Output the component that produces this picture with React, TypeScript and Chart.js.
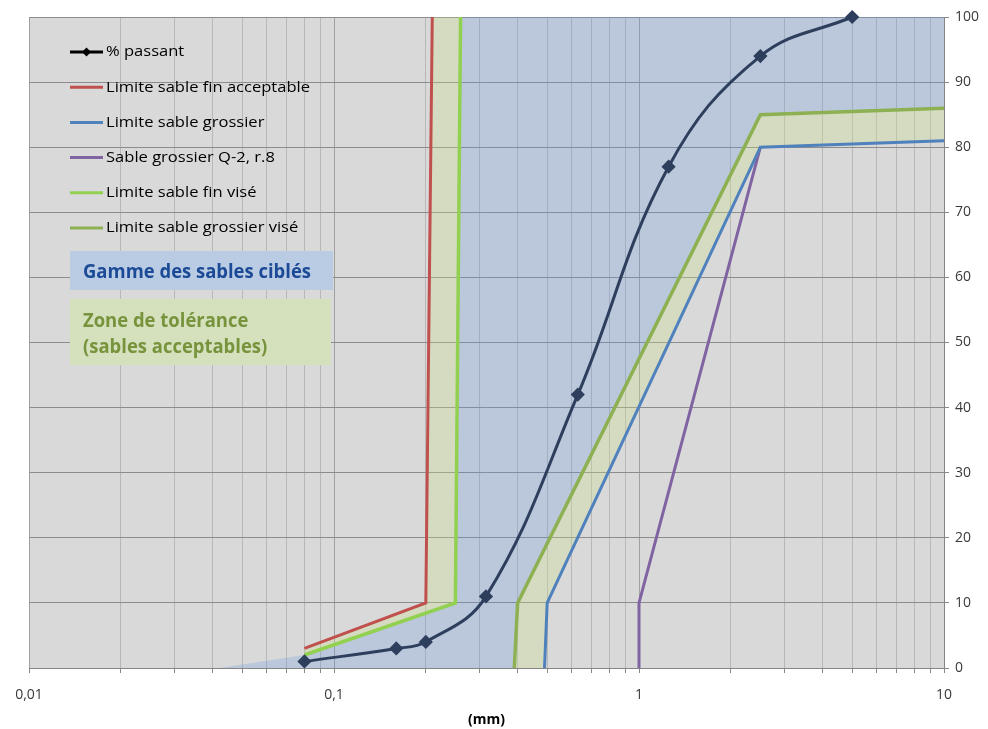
import React, { useEffect, useRef } from "react";
import { Chart, registerables } from "chart.js";

Chart.register(...registerables);

// ---- Data ----
const X_TICKS = [
  0.01, 0.02, 0.03, 0.04, 0.05, 0.06, 0.07, 0.08, 0.09,
  0.1, 0.2, 0.3, 0.4, 0.5, 0.6, 0.7, 0.8, 0.9,
  1, 2, 3, 4, 5, 6, 7, 8, 9, 10,
];
const X_MAJOR = [0.01, 0.1, 1, 10];
const X_MAJOR_LABELS = ["0,01", "0,1", "1", "10"];

const PASSANT_X = [0.08, 0.16, 0.2, 0.315, 0.63, 1.25, 2.5, 5];
const PASSANT_Y = [1, 3, 4, 11, 42, 77, 94, 100];

const FIN_ACC_X = [0.08, 0.2, 0.21];
const FIN_ACC_Y = [3, 10, 100];

const GROS_X = [0.49, 0.5, 2.5, 10];
const GROS_Y = [0, 10, 80, 81];

const Q2_X = [1, 1, 2.5];
const Q2_Y = [0, 10, 80];

const FIN_VISE_X = [0.08, 0.25, 0.26];
const FIN_VISE_Y = [2, 10, 100];

const GROS_VISE_X = [0.39, 0.4, 2.5, 10];
const GROS_VISE_Y = [0, 10, 85, 86];

// extra corners of the "gamme" zone
const GAMME_START_X = [0.042];
const GAMME_START_Y = [0];
const GAMME_TOP_X = [10];
const GAMME_TOP_Y = [100];

const LEGEND_LABELS = [
  "% passant",
  "Limite sable fin acceptable",
  "Limite sable grossier",
  "Sable grossier Q-2, r.8",
  "Limite sable fin visé",
  "Limite sable grossier visé",
];
const GAMME_TEXT = "Gamme des sables ciblés";
const ZONE_TEXT = ["Zone de tolérance", "(sables acceptables)"];

// ---- Styles ----
const C_PASSANT = "#2d3f5c";
const C_FIN_ACC = "#c0504d";
const C_GROS = "#4f81bd";
const C_Q2 = "#8064a2";
const C_FIN_VISE = "#92d050";
const C_GROS_VISE = "#8db152";
const LEGEND_COLORS = ["#000000", C_FIN_ACC, C_GROS, C_Q2, C_FIN_VISE, C_GROS_VISE];

const pts = (xs: number[], ys: number[]) => xs.map((x, i) => ({ x, y: ys[i] }));

const FONT = "'Open Sans', 'Liberation Sans', sans-serif";

function fitText(ctx: CanvasRenderingContext2D, text: string, x: number, y: number, sx: number) {
  ctx.save();
  ctx.translate(x, y);
  ctx.scale(sx, 1);
  ctx.fillText(text, 0, 0);
  ctx.restore();
}

const bgPlugin = {
  id: "bgPlugin",
  beforeDraw(chart: any) {
    const { ctx, chartArea } = chart;
    ctx.save();
    ctx.fillStyle = "#d9d9d9";
    ctx.fillRect(chartArea.left, chartArea.top, chartArea.right - chartArea.left, chartArea.bottom - chartArea.top);
    ctx.restore();
  },
};

const overlayPlugin = {
  id: "overlayPlugin",
  afterDatasetsDraw(chart: any) {
    const { ctx, chartArea } = chart;
    const L = chartArea.left;
    const T = chartArea.top;
    ctx.save();
    // legend
    ctx.font = `14px ${FONT}`;
    ctx.textBaseline = "middle";
    ctx.textAlign = "left";
    const refW = ctx.measureText(LEGEND_LABELS[1]).width;
    const sx = 204 / refW;
    LEGEND_LABELS.forEach((lab, i) => {
      const y = T + 35 + i * 35.2;
      ctx.strokeStyle = LEGEND_COLORS[i];
      ctx.lineWidth = 3;
      ctx.beginPath();
      ctx.moveTo(L + 41, y);
      ctx.lineTo(L + 74, y);
      ctx.stroke();
      if (i === 0) {
        ctx.fillStyle = "#000";
        ctx.beginPath();
        const cx = L + 57.5;
        ctx.moveTo(cx, y - 4.5);
        ctx.lineTo(cx + 4.5, y);
        ctx.lineTo(cx, y + 4.5);
        ctx.lineTo(cx - 4.5, y);
        ctx.closePath();
        ctx.fill();
      }
      ctx.fillStyle = "#000";
      fitText(ctx, lab, L + 77, y + 0.5, sx);
    });

    // Gamme box
    ctx.fillStyle = "#b9cce3";
    ctx.fillRect(L + 41, T + 234, 263, 39);
    ctx.font = `bold 19px ${FONT}`;
    const gW = ctx.measureText(GAMME_TEXT).width;
    const gsx = 228 / gW;
    ctx.fillStyle = "#1c4a96";
    fitText(ctx, GAMME_TEXT, L + 54, T + 256, gsx);

    // Zone box
    ctx.fillStyle = "#d5e0bd";
    ctx.fillRect(L + 41, T + 282, 261, 66);
    ctx.fillStyle = "#77933c";
    fitText(ctx, ZONE_TEXT[0], L + 54, T + 305, gsx);
    fitText(ctx, ZONE_TEXT[1], L + 54, T + 331, gsx);
    ctx.restore();
  },
};

export default function App() {
  const ref = useRef<HTMLCanvasElement | null>(null);

  useEffect(() => {
    if (!ref.current) return;

    const gamme = [
      ...pts(GAMME_START_X, GAMME_START_Y),
      ...pts(FIN_VISE_X, FIN_VISE_Y),
      ...pts(GAMME_TOP_X, GAMME_TOP_Y),
      ...pts(GROS_VISE_X, GROS_VISE_Y).reverse(),
    ];
    const zoneFine = [...pts(FIN_ACC_X, FIN_ACC_Y), ...pts(FIN_VISE_X, FIN_VISE_Y).reverse()];
    const zoneCoarse = [...pts(GROS_VISE_X, GROS_VISE_Y), ...pts(GROS_X, GROS_Y).reverse()];

    const lineDs = (label: string, data: any[], color: string, width = 3) => ({
      label,
      data,
      borderColor: color,
      backgroundColor: color,
      borderWidth: width,
      pointRadius: 0,
      tension: 0,
      fill: false,
    });
    const shapeDs = (label: string, data: any[], color: string) => ({
      label,
      data,
      borderColor: "transparent",
      backgroundColor: color,
      borderWidth: 1,
      pointRadius: 0,
      tension: 0,
      fill: "shape",
    });

    const chart = new Chart(ref.current, {
      type: "line",
      data: {
        datasets: [
          {
            label: LEGEND_LABELS[0],
            data: pts(PASSANT_X, PASSANT_Y),
            borderColor: C_PASSANT,
            backgroundColor: C_PASSANT,
            borderWidth: 3,
            pointStyle: "rectRot",
            pointRadius: 5,
            pointBackgroundColor: C_PASSANT,
            pointBorderColor: C_PASSANT,
            tension: 0.4,
            fill: false,
            clip: 8,
          } as any,
          lineDs(LEGEND_LABELS[1], pts(FIN_ACC_X, FIN_ACC_Y), C_FIN_ACC, 3),
          lineDs(LEGEND_LABELS[2], pts(GROS_X, GROS_Y), C_GROS, 3),
          lineDs(LEGEND_LABELS[3], pts(Q2_X, Q2_Y), C_Q2, 3),
          lineDs(LEGEND_LABELS[4], pts(FIN_VISE_X, FIN_VISE_Y), C_FIN_VISE, 3.5),
          lineDs(LEGEND_LABELS[5], pts(GROS_VISE_X, GROS_VISE_Y), C_GROS_VISE, 3.5),
          shapeDs("zone fine", zoneFine, "rgba(205,225,140,0.3)"),
          shapeDs("zone coarse", zoneCoarse, "rgba(205,225,140,0.3)"),
          shapeDs("gamme", gamme, "rgba(100,150,225,0.26)"),
        ],
      },
      plugins: [bgPlugin, overlayPlugin],
      options: {
        animation: false,
        responsive: true,
        maintainAspectRatio: false,
        events: [],
        layout: { padding: { left: 29, top: 17, right: 0, bottom: 0 } },
        plugins: {
          legend: { display: false },
          tooltip: { enabled: false },
          title: { display: false },
        },
        scales: {
          x: {
            type: "logarithmic",
            position: "bottom",
            min: 0.01,
            max: 10,
            afterBuildTicks: (scale: any) => {
              scale.ticks = X_TICKS.map((v) => ({ value: v }));
            },
            afterFit: (scale: any) => {
              scale.height = 61;
            },
            ticks: {
              autoSkip: false,
              maxRotation: 0,
              padding: 14,
              color: "#3a3a3a",
              font: { family: FONT, size: 14 },
              callback: (value: any) => {
                const idx = X_MAJOR.findIndex((m) => Math.abs(m - Number(value)) < 1e-9);
                return idx >= 0 ? X_MAJOR_LABELS[idx] : "";
              },
            },
            grid: {
              color: (c: any) => {
                const v = c.tick ? c.tick.value : 0;
                return X_MAJOR.some((m) => Math.abs(m - v) < 1e-9) ? "#a0a0a0" : "#b8b8b8";
              },
              tickColor: "#8a8a8a",
              tickLength: 5,
              lineWidth: 1,
            },
            border: { display: true, color: "#868686", width: 1 },
            title: {
              display: true,
              text: "(mm)",
              color: "#000",
              font: { family: FONT, size: 14, weight: "bold" },
              padding: { top: 0, bottom: 1 },
            },
          },
          y: {
            type: "linear",
            position: "right",
            min: 0,
            max: 100,
            afterFit: (scale: any) => {
              scale.width = 44;
            },
            ticks: {
              stepSize: 10,
              padding: 6,
              color: "#3a3a3a",
              font: { family: FONT, size: 14 },
            },
            grid: {
              color: "#8c8c8c",
              tickColor: "#8a8a8a",
              tickLength: 5,
              lineWidth: 1,
            },
            border: { display: true, color: "#868686", width: 1 },
          },
        },
      } as any,
    });

    return () => chart.destroy();
  }, []);

  return (
    <div style={{ position: "absolute", left: 0, top: 0, width: 988, height: 729 }}>
      <canvas ref={ref} />
    </div>
  );
}
